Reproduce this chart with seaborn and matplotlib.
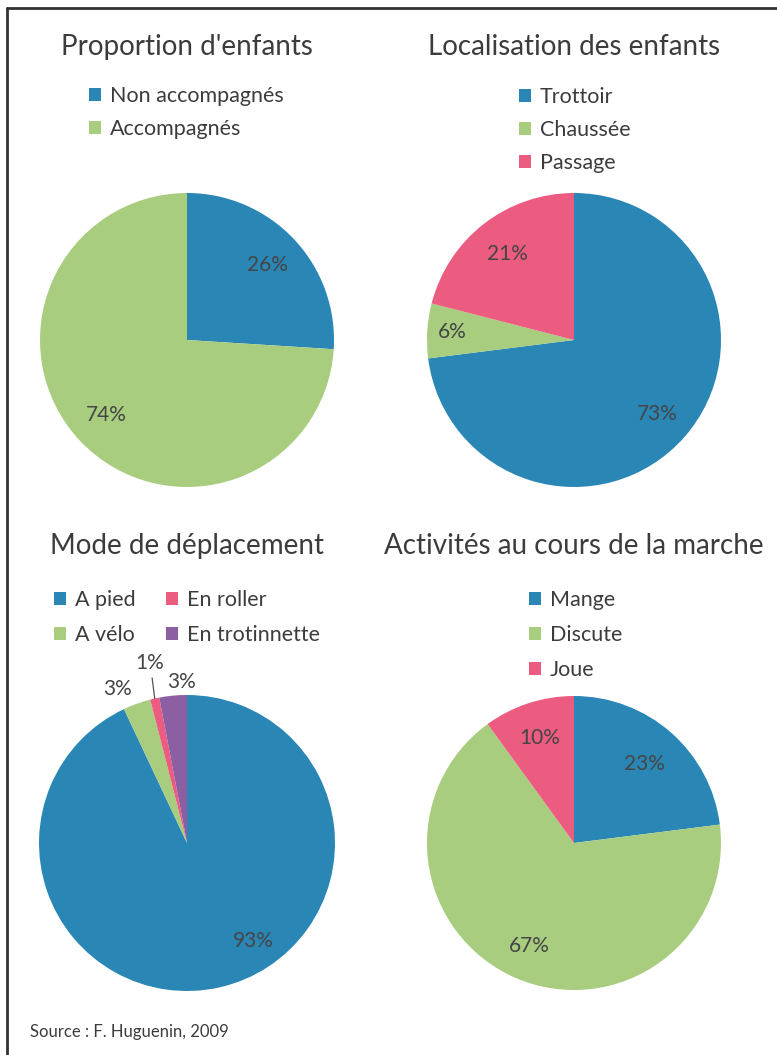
import numpy as np
import seaborn as sns
import matplotlib.pyplot as plt
from matplotlib.lines import Line2D

# %% DATA

titles = ["Proportion d'enfants", "Localisation des enfants",
          "Mode de déplacement", "Activités au cours de la marche"]

enfants_labels = ['Non accompagnés', 'Accompagnés']
enfants_values = [26, 74]

localisation_labels = ['Trottoir', 'Chaussée', 'Passage']
localisation_values = [73, 6, 21]

mode_labels = ['A pied', 'A vélo', 'En roller', 'En trotinnette']
mode_values = [93, 3, 1, 3]

activite_labels = ['Mange', 'Discute', 'Joue']
activite_values = [23, 67, 10]

source = 'Source : F. Huguenin, 2009'

# %% STYLE

sns.set_theme(style='white')
plt.rcParams['font.family'] = ['Lato', 'DejaVu Sans']

palette = sns.color_palette(['#2a86b5', '#a8cd7e', '#ec5b80', '#8c5ea2'])
txt_col = '#3c3c3c'
W, H = 777, 1055

fig = plt.figure(figsize=(W / 100, H / 100), dpi=100)


def fx(x):
    return x / W


def fy(y):
    return 1 - y / H


def pie_ax(cx, cy, r=147):
    ax = fig.add_axes([fx(cx - r), fy(cy + r), 2 * r / W, 2 * r / H])
    return ax


def draw_pie(ax, values):
    wedges, _ = ax.pie(values, colors=palette[:len(values)], startangle=90,
                       counterclock=False, radius=1,
                       wedgeprops={'linewidth': 0})
    ax.set_xlim(-1, 1)
    ax.set_ylim(-1, 1)
    ax.set_aspect('equal')
    ax.axis('off')
    return wedges


def mid_angle(w):
    return np.deg2rad((w.theta1 + w.theta2) / 2)


def pct_label(ax, w, val, r=0.75, ang=None):
    a = mid_angle(w) if ang is None else np.deg2rad(ang)
    ax.text(r * np.cos(a), r * np.sin(a), f'{val}%', ha='center', va='center',
            fontsize=15, color='#454545')


def legend(ax, wedges, labels, x, y, ncol=1, spacing=0.6):
    ax.legend(wedges, labels, loc='upper left', bbox_to_anchor=(fx(x), fy(y)),
              bbox_transform=fig.transFigure, frameon=False, ncol=ncol,
              fontsize=15.5, handlelength=0.56, handleheight=0.56,
              handletextpad=0.42, labelspacing=spacing, columnspacing=1.4,
              borderpad=0, borderaxespad=0, labelcolor=txt_col)


# %% PIE 1

ax1 = pie_ax(187, 340)
w1 = draw_pie(ax1, enfants_values)
for w, v in zip(w1, enfants_values):
    pct_label(ax1, w, v, r=0.75)
legend(ax1, w1, enfants_labels, 89, 86)

# %% PIE 2

ax2 = pie_ax(574, 340)
w2 = draw_pie(ax2, localisation_values)
for w, v, r in zip(w2, localisation_values, [0.76, 0.83, 0.74]):
    pct_label(ax2, w, v, r=r)
legend(ax2, w2, localisation_labels, 519, 87)

# %% PIE 3

ax3 = pie_ax(187, 843, r=148)
w3 = draw_pie(ax3, mode_values)
pct_label(ax3, w3[0], mode_values[0], r=0.80, ang=-56)
pct_label(ax3, w3[1], mode_values[1], r=1.14, ang=114.5)
pct_label(ax3, w3[3], mode_values[3], r=1.09, ang=92)
a = mid_angle(w3[2])
at = np.deg2rad(101.6)
ax3.annotate(f'{mode_values[2]}%', xy=(np.cos(a), np.sin(a)),
             xytext=(1.24 * np.cos(at), 1.24 * np.sin(at)),
             ha='center', va='center', fontsize=15, color='#454545',
             arrowprops=dict(arrowstyle='-', color='#555555', lw=0.9,
                             shrinkA=1, shrinkB=0, relpos=(0.55, 0)))
legend(ax3, w3, mode_labels, 54, 590, ncol=2, spacing=0.7)

# %% PIE 4

ax4 = pie_ax(574, 843)
w4 = draw_pie(ax4, activite_values)
for w, v, r in zip(w4, activite_values, [0.72, 0.76, 0.75]):
    pct_label(ax4, w, v, r=r)
legend(ax4, w4, activite_labels, 529, 590, spacing=0.7)

# %% TEXT AND FRAME

for (x, y), t in zip([(187, 47), (574, 47), (187, 546), (574, 546)], titles):
    fig.text(fx(x), fy(y), t, ha='center', va='center', fontsize=20,
             color=txt_col)

fig.text(fx(30), fy(1032), source, ha='left', va='center', fontsize=12,
         color=txt_col)

fig.add_artist(Line2D([fx(7), 1], [fy(8), fy(8)], color='#333333', lw=2))
fig.add_artist(Line2D([fx(7), fx(7)], [fy(8), 0], color='#333333', lw=2))

fig.savefig('out.png', dpi=100)
